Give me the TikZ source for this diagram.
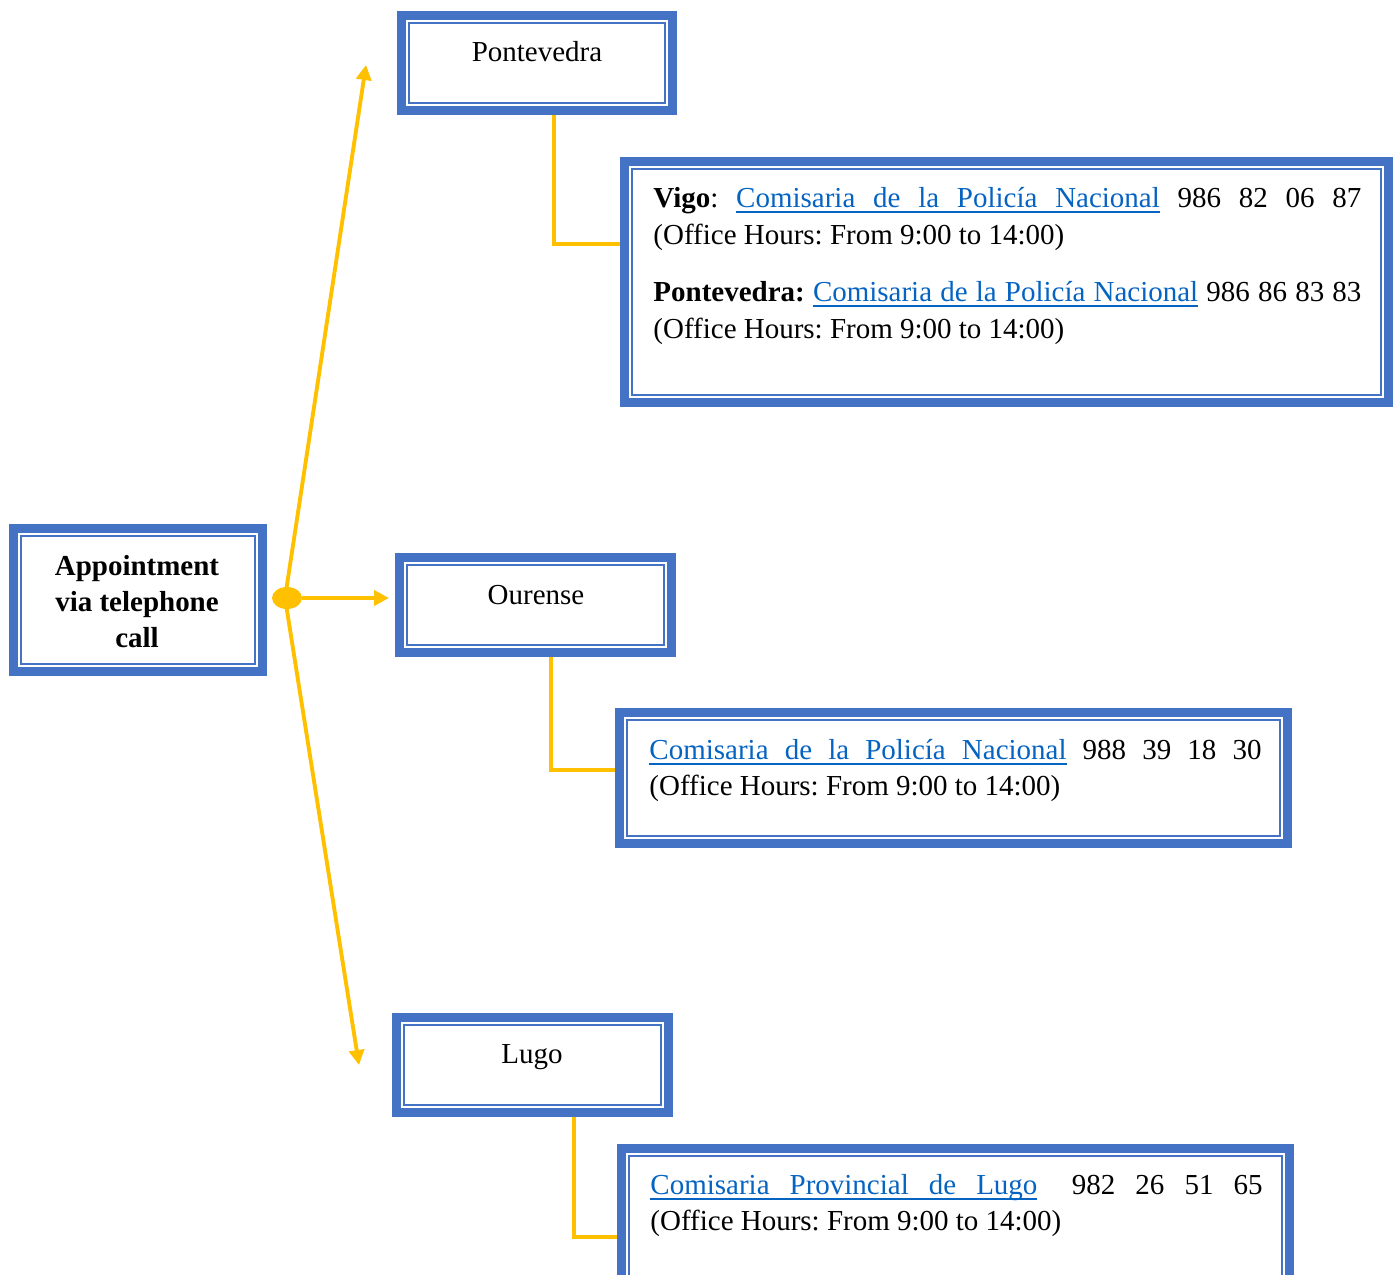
\documentclass[tikz,border=0pt]{standalone}
\usepackage{fontspec}
\setmainfont{Liberation Serif}
\usetikzlibrary{arrows.meta,shapes.geometric}
\definecolor{boxblue}{HTML}{4472C4}
\definecolor{conn}{HTML}{FFC000}
\definecolor{linkblue}{HTML}{0563C1}
\frenchspacing
\newcommand\ulsp{\leaders\vrule height -1.8pt depth 2.6pt\hskip\fontdimen2\font plus\fontdimen3\font minus\fontdimen4\font\relax}
\newcommand\ulw[1]{\setbox0\hbox{#1}\rlap{\vrule height -1.8pt depth 2.6pt width \wd0}\box0}
\newcommand\lnkPN{{\color{linkblue}\ulw{Comisaria}\ulsp\ulw{de}\ulsp\ulw{la}\ulsp\ulw{Policía}\ulsp\ulw{Nacional}}}
\newcommand\lnkPL{{\color{linkblue}\ulw{Comisaria}\ulsp\ulw{Provincial}\ulsp\ulw{de}\ulsp\ulw{Lugo}}}
\newcommand\dbox[5]{%
  \pgfmathsetmacro\bw{(#4-#2-9)*0.414}%
  \pgfmathsetmacro\bh{(#5-#3-9)*0.414}%
  \node[bluebox, minimum width=\bw pt, minimum height=\bh pt] (#1) at ({(#2+#4)/2},{(#3+#5)/2}) {};%
  \draw[boxblue, line width=0.83pt] ({#2+12},{#3+12}) rectangle ({#4-12},{#5-12});%
}
\begin{document}
\begin{tikzpicture}[x=0.414pt, y=-0.414pt,
  bluebox/.style={draw=boxblue, line width=3.73pt, inner sep=0pt, rectangle},
  txt/.style={inner sep=0pt, font=\fontsize{12pt}{15pt}\selectfont},
  conline/.style={draw=conn, line width=1.6pt},
  hubdot/.style={ellipse, fill=conn, draw=none, inner sep=0pt, minimum width=12.4pt, minimum height=9.1pt},
  tip/.style={-{Triangle[length=6.2pt,width=6.2pt]}}]
\useasboundingbox (0,0) rectangle (1397,1275);
\clip (0,0) rectangle (1397,1275);

% boxes
\dbox{appt}{9}{524}{267}{676}
\dbox{pont}{397}{11}{677}{115}
\dbox{vigo}{620}{157}{1393}{407}
\dbox{our}{395}{553}{676}{657}
\dbox{ourinfo}{615}{708}{1292}{848}
\dbox{lugo}{392}{1013}{673}{1117}
\dbox{lugoinfo}{617}{1144}{1294}{1300}

% texts
\node[txt, anchor=base, font=\fontsize{12pt}{15pt}\selectfont\bfseries] (apptA) at (137,575) {Appointment};
\node[txt, anchor=base, font=\fontsize{12pt}{15pt}\selectfont\bfseries] (apptB) at (137,611) {via telephone};
\node[txt, anchor=base, font=\fontsize{12pt}{15pt}\selectfont\bfseries] (apptC) at (137,647) {call};

\node[txt, anchor=base] (pontT) at (537,61) {Pontevedra};
\node[txt, anchor=base] (ourT) at (536,604) {Ourense};
\node[txt, anchor=base] (lugoT) at (532,1063) {Lugo};

\node[txt, anchor=base west] (v1) at (653,207) {\hbox to 293.1pt{\textbf{Vigo}: \lnkPN{} 986 82 06 87}};
\node[txt, anchor=base west] (v2) at (653,244) {(Office Hours: From 9:00 to 14:00)};
\node[txt, anchor=base west] (v3) at (653,301) {\hbox to 293.1pt{\textbf{Pontevedra:} \lnkPN{} 986 86 83 83}};
\node[txt, anchor=base west] (v4) at (653,338) {(Office Hours: From 9:00 to 14:00)};

\node[txt, anchor=base west] (o1) at (649,759) {\hbox to 253.4pt{\lnkPN{} 988 39 18 30}};
\node[txt, anchor=base west] (o2) at (649,795) {(Office Hours: From 9:00 to 14:00)};

\node[txt, anchor=base west] (l1) at (650,1194) {\hbox to 253.4pt{\lnkPL\hspace{6pt} 982 26 51 65}};
\node[txt, anchor=base west] (l2) at (650,1230) {(Office Hours: From 9:00 to 14:00)};

% connectors
\coordinate (fork) at (285,598);
\coordinate (tipup) at (366,65);
\coordinate (tipdown) at (359,1065);
\coordinate (tipright) at (389,598);
\draw[conline, tip] (fork) -- (tipup);
\draw[conline, tip] (fork) -- (tipdown);
\node[hubdot] (hub) at (287,598) {};
\draw[conline, tip] (hub.east) -- (tipright);

\draw[conline] (pont.south -| 554,0) |- (vigo.west |- 0,244);
\draw[conline] (our.south -| 551,0) |- (ourinfo.west |- 0,770);
\draw[conline] (lugo.south -| 574,0) |- (lugoinfo.west |- 0,1237);
\end{tikzpicture}
\end{document}
